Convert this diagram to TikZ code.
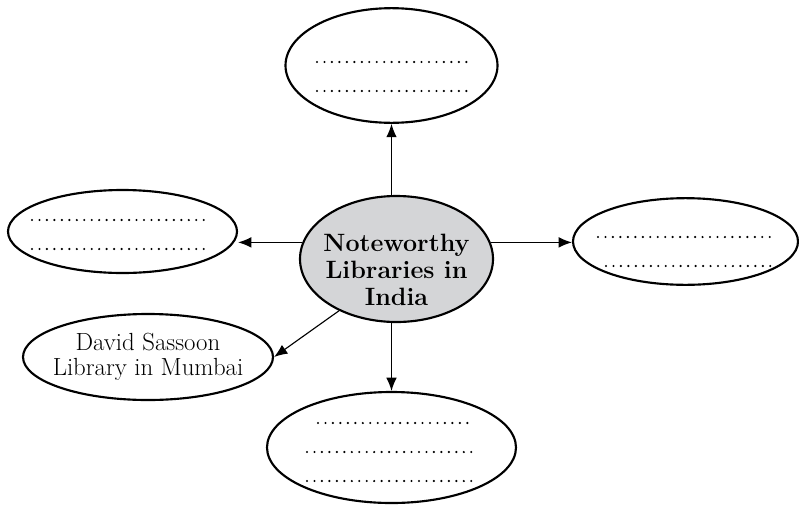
\documentclass[tikz,border=0pt]{standalone}
\usepackage{amsmath}
\usepackage[dvipsnames]{xcolor}
\usetikzlibrary{shapes.geometric,arrows.meta}
\definecolor{hubgray}{RGB}{212,213,215}
\begin{document}
\begin{tikzpicture}[x=0.75pt,y=0.75pt,yscale=-1,xscale=1,
    bubble/.style={draw,ellipse,line width=1.6pt,inner sep=0pt,align=center},
    dotrow/.style={line width=1.8pt,line cap=round,dash pattern=on 0pt off 5.6pt},
    arr/.style={line width=0.85pt,-{Latex[length=10pt,width=8pt]}}]
            \useasboundingbox (0,0) rectangle (799,504);
            \node [bubble,minimum width=159pt,minimum height=86pt] (top) at (391.5,65.5) {};
            \node [bubble,minimum width=171.75pt,minimum height=62.25pt] (left) at (122.5,231.5) {};
            \node [bubble,minimum width=168.75pt,minimum height=65pt] (right) at (685.5,241.5) {};
            \node [bubble,minimum width=186.75pt,minimum height=83.25pt] (bottom) at (391.5,447.5) {};
            \node [bubble,inner xsep=-9pt,minimum width=187.5pt,minimum height=64.5pt,font=\fontsize{18.6}{18.75}\selectfont] (david) at (148,357) {David Sassoon\\Library in Mumbai};
            \node [bubble,fill=hubgray,minimum width=144.75pt,minimum height=94.5pt] (hub) at (396.5,259) {};
            \node [align=center,inner sep=0pt,font=\fontsize{18.8}{20.25}\selectfont\bfseries] (hubtext) at (396.5,270) {Noteworthy\\Libraries in\\India};
            \draw [dotrow] (317,62) -- (467,62) (317,91) -- (467,91);
            \draw [dotrow] (32,220) -- (210,220) (32,249) -- (210,249);
            \draw [dotrow] (598,237) -- (775,237) (606,266) -- (775,266);
            \draw [dotrow] (318,423) -- (468,423) (307,452) -- (478,452) (307,481) -- (478,481);
            \draw [arr] (hub.north -| top.south) -- (top.south);
            \draw [arr] (hub.170) -- (left.east |- hub.170);
            \draw [arr] (hub.10) -- (right.west |- hub.10);
            \draw [arr] (hub.south -| bottom.north) -- (bottom.north);
            \draw [arr] (hub.222) -- (david.east);
        \end{tikzpicture}
\end{document}
